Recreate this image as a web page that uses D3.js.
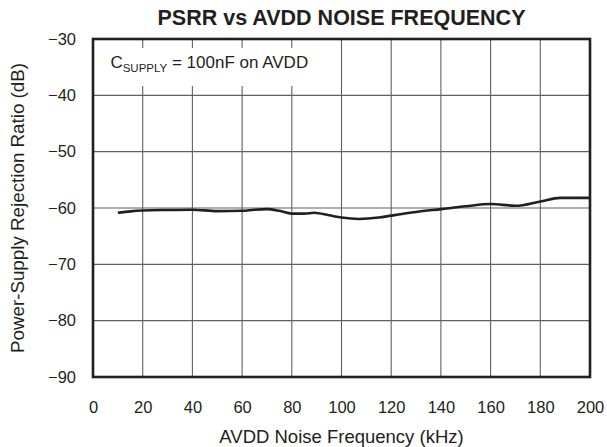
<!DOCTYPE html>
<html><head><meta charset="utf-8">
<script src="https://cdn.jsdelivr.net/npm/d3@7"></script>
<style>body{margin:0;background:#fff}svg{display:block}text{font-family:"Liberation Sans",Arial,Helvetica,sans-serif;fill:#231f20}</style>
</head><body><svg id="c" width="607" height="447"></svg>
<script>
const freqKHz = [10,15,20,30,40,50,60,65,70,75,80,85,89,95,100,107,115,120,130,140,150,160,170,180,188,200];
const psrrDb = [-60.85,-60.6,-60.45,-60.35,-60.3,-60.55,-60.5,-60.3,-60.2,-60.5,-61.0,-61.0,-60.85,-61.3,-61.7,-61.95,-61.7,-61.35,-60.7,-60.2,-59.7,-59.3,-59.6,-58.85,-58.2,-58.2];
const xTicks = [0,20,40,60,80,100,120,140,160,180,200];
const yTicks = [-30,-40,-50,-60,-70,-80,-90];
const titleText = "PSRR vs AVDD NOISE FREQUENCY";
const xTitle = "AVDD Noise Frequency (kHz)";
const yTitle = "Power-Supply Rejection Ratio (dB)";

const svg = d3.select("#c");
const L=93,R=590,T=39,B=377;
const x = d3.scaleLinear().domain([0,200]).range([L,R]);
const y = d3.scaleLinear().domain([-90,-30]).range([B,T]);

const grid = svg.append("g").attr("stroke","#5f6062").attr("stroke-width",1.1);
grid.selectAll(".v").data(xTicks.slice(1,-1)).join("line")
  .attr("x1",d=>x(d)).attr("x2",d=>x(d)).attr("y1",T).attr("y2",B);
grid.selectAll(".h").data(yTicks.slice(1,-1)).join("line")
  .attr("y1",d=>y(d)).attr("y2",d=>y(d)).attr("x1",L).attr("x2",R);

// annotation background
svg.append("rect").attr("x",x(3)).attr("y",T+9).attr("width",x(87)-x(3)).attr("height",38).attr("fill","#fff");
const ann = svg.append("text").attr("x",x(7)).attr("y",T+29).attr("font-size",17);
ann.append("tspan").text("C");
ann.append("tspan").attr("font-size",11.5).attr("dy",4).text("SUPPLY");
ann.append("tspan").attr("dy",-4).text(" = 100nF on AVDD");

const line = d3.line().x((d,i)=>x(freqKHz[i])).y(d=>y(d)).curve(d3.curveMonotoneX);
svg.append("path").datum(psrrDb).attr("d",line).attr("fill","none")
  .attr("stroke","#231f20").attr("stroke-width",2.6).attr("stroke-linejoin","round");

svg.append("rect").attr("x",L).attr("y",T).attr("width",R-L).attr("height",B-T)
  .attr("fill","none").attr("stroke","#231f20").attr("stroke-width",2.6);

const xa = svg.append("g").attr("transform",`translate(0,${B})`)
  .call(d3.axisBottom(x).tickValues(xTicks).tickSize(0).tickPadding(24).tickFormat(d3.format("d")));
xa.select(".domain").remove();
xa.selectAll("text").attr("font-size",16.5).attr("font-family",null);
const ya = svg.append("g").attr("transform",`translate(${L},0)`)
  .call(d3.axisLeft(y).tickValues(yTicks).tickSize(0).tickPadding(17).tickFormat(d3.format("d")));
ya.select(".domain").remove();
ya.selectAll("text").attr("font-size",16.5).attr("font-family",null);

svg.append("text").attr("x",(L+R)/2).attr("y",25).attr("text-anchor","middle")
  .attr("font-size",21.5).attr("font-weight","bold").text(titleText);
svg.append("text").attr("x",(L+R)/2).attr("y",443).attr("text-anchor","middle")
  .attr("font-size",18.5).text(xTitle);
svg.append("text").attr("transform",`translate(24,${(T+B)/2}) rotate(-90)`).attr("text-anchor","middle")
  .attr("font-size",18.8).text(yTitle);
</script></body></html>
